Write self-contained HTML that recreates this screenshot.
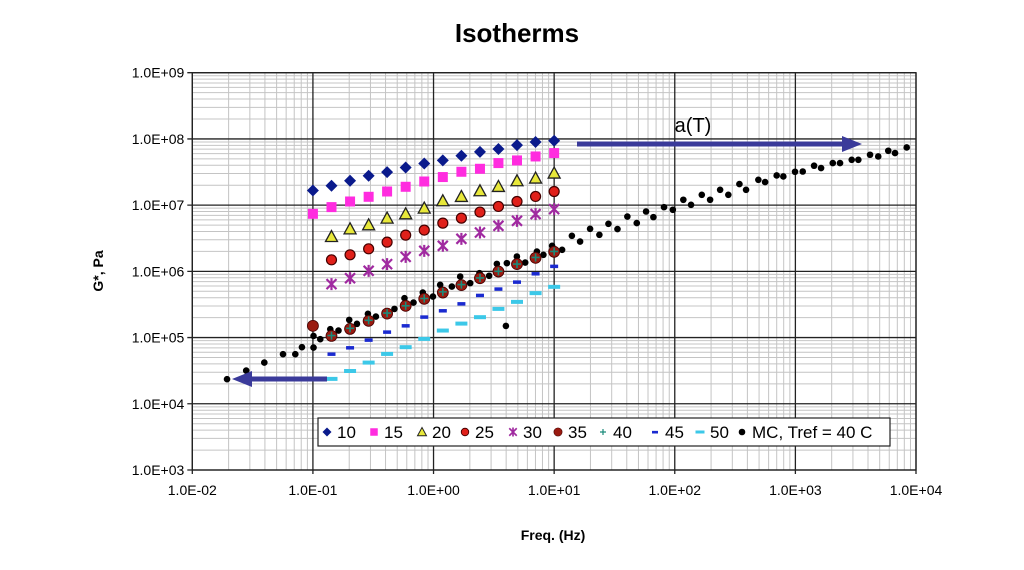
<!DOCTYPE html>
<html><head><meta charset="utf-8"><style>
body{margin:0;background:#fff;width:1024px;height:565px;overflow:hidden}
svg{font-family:"Liberation Sans",Arial,sans-serif}
</style></head><body>
<svg id="chart" width="1024" height="565" xmlns="http://www.w3.org/2000/svg">
<rect width="1024" height="565" fill="#fff"/>
<text x="517" y="42" font-size="26" font-weight="bold" text-anchor="middle">Isotherms</text>
<text x="553" y="540" font-size="14" font-weight="bold" text-anchor="middle">Freq. (Hz)</text>
<text transform="translate(103,271) rotate(-90)" font-size="14" font-weight="bold" text-anchor="middle">G*, Pa</text>
<g id="grid"></g>
<g id="ticks"></g>
<g id="marks"></g>
</svg>
<script>
const xTickLabels=["1.0E-02","1.0E-01","1.0E+00","1.0E+01","1.0E+02","1.0E+03","1.0E+04"];
const yTickLabels=["1.0E+03","1.0E+04","1.0E+05","1.0E+06","1.0E+07","1.0E+08","1.0E+09"];
const isoLogFreq=[-1,-0.846,-0.692,-0.538,-0.385,-0.231,-0.077,0.077,0.231,0.385,0.538,0.692,0.846,1];
const s10=[7.221,7.292,7.368,7.443,7.499,7.569,7.629,7.675,7.746,7.804,7.847,7.907,7.953,7.972];
const s15=[6.869,6.970,7.055,7.126,7.206,7.277,7.357,7.424,7.504,7.549,7.635,7.675,7.735,7.786];
const s20=[null,6.526,6.642,6.703,6.804,6.869,6.955,7.066,7.131,7.217,7.282,7.368,7.409,7.484];
const s25=[null,6.174,6.250,6.340,6.441,6.547,6.623,6.728,6.804,6.895,6.980,7.055,7.131,7.206];
const s30=[null,5.807,5.897,6.008,6.109,6.219,6.310,6.386,6.491,6.587,6.688,6.763,6.865,6.940];
const s35=[5.177,5.025,5.131,5.252,5.362,5.479,5.585,5.680,5.792,5.897,5.997,6.109,6.204,6.295];
const s40=[null,5.03,5.14,5.26,5.37,5.48,5.59,5.69,5.80,5.90,6.00,6.11,6.21,6.30];
const s45=[null,4.753,4.849,4.965,5.086,5.181,5.313,5.408,5.513,5.640,5.736,5.841,5.967,6.079];
const s50=[null,4.376,4.495,4.622,4.753,4.855,4.980,5.106,5.211,5.308,5.433,5.539,5.671,5.766];
const mcLogF=[-1.712,-1.553,-1.403,-1.248,-1.146,-1.091,-0.995,-0.995,-0.939,-0.856,-0.788,-0.699,-0.635,-0.544,-0.478,-0.387,-0.324,-0.241,-0.166,-0.089,-0.005,0.055,0.152,0.221,0.304,0.381,0.461,0.525,0.608,0.691,0.760,0.857,0.911,0.983,1.066,1.147,1.215,1.298,1.375,1.450,1.525,1.607,1.685,1.762,1.823,1.911,1.984,2.071,2.135,2.224,2.293,2.376,2.444,2.536,2.591,2.693,2.749,2.845,2.900,2.997,3.061,3.155,3.213,3.310,3.370,3.467,3.522,3.619,3.687,3.770,3.826,3.923,0.600];
const mcLogG=[4.371,4.501,4.622,4.749,4.749,4.855,4.849,5.025,4.976,5.127,5.106,5.267,5.207,5.358,5.317,5.399,5.433,5.595,5.529,5.680,5.619,5.796,5.770,5.922,5.822,5.973,5.932,6.113,6.124,6.224,6.133,6.299,6.250,6.386,6.325,6.537,6.450,6.642,6.552,6.718,6.638,6.828,6.729,6.904,6.819,6.970,6.930,7.081,7.005,7.156,7.081,7.232,7.156,7.318,7.232,7.383,7.348,7.448,7.433,7.504,7.508,7.595,7.560,7.635,7.635,7.685,7.685,7.761,7.735,7.821,7.786,7.871,5.176];

const NS="http://www.w3.org/2000/svg";
const L=192.3,R=916,T=72.7,B=470;
const xMin=-2,xMax=4,yMin=3,yMax=9;
const X=v=>L+(v-xMin)/(xMax-xMin)*(R-L);
const Y=v=>B-(v-yMin)/(yMax-yMin)*(B-T);
function mk(tag,attrs,parent){const e=document.createElementNS(NS,tag);for(const k in attrs)e.setAttribute(k,attrs[k]);parent.appendChild(e);return e;}
const grid=document.getElementById('grid'),ticks=document.getElementById('ticks'),marks=document.getElementById('marks');
for(let d=xMin;d<xMax;d++)for(let m=2;m<10;m++){const x=X(d+Math.log10(m));const ln=mk('line',{x1:x,x2:x,y1:T,y2:B,stroke:'#c4c4c4','stroke-width':1},grid);}
for(let d=yMin;d<yMax;d++)for(let m=2;m<10;m++){const y=Y(d+Math.log10(m));const ln=mk('line',{x1:L,x2:R,y1:y,y2:y,stroke:'#c4c4c4','stroke-width':1},grid);}
xTickLabels.forEach((t,i)=>{const x=X(xMin+i);const ln=mk('line',{x1:x,x2:x,y1:T,y2:B+4,stroke:'#222','stroke-width':1.3},grid);
const tx=mk('text',{x:x,y:B+25,'font-size':14,'text-anchor':'middle'},ticks);tx.textContent=t;});
yTickLabels.forEach((t,i)=>{const y=Y(yMin+i);const ln=mk('line',{x1:L-5,x2:R,y1:y,y2:y,stroke:'#222','stroke-width':1.3},grid);
const tx=mk('text',{x:L-8,y:y+5,'font-size':14,'text-anchor':'end'},ticks);tx.textContent=t;});
const fr=mk('rect',{x:L,y:T,width:R-L,height:B-T,fill:'none',stroke:'#222','stroke-width':1.3},grid);

function marker(type,x,y,parent){let e;
 if(type==='diamond')e=mk('path',{d:`M${x} ${y-6}L${x+6} ${y}L${x} ${y+6}L${x-6} ${y}Z`,fill:'#0a1a8c'},parent);
 else if(type==='square')e=mk('rect',{x:x-5,y:y-5,width:10,height:10,fill:'#ff2cdf'},parent);
 else if(type==='tri')e=mk('path',{d:`M${x} ${y-6}L${x+6} ${y+5}L${x-6} ${y+5}Z`,fill:'#e8e83a',stroke:'#222','stroke-width':1.3},parent);
 else if(type==='circle')e=mk('circle',{cx:x,cy:y,r:5,fill:'#e0201a',stroke:'#400','stroke-width':1.2},parent);
 else if(type==='dcircle')e=mk('circle',{cx:x,cy:y,r:5.5,fill:'#9a1a10',stroke:'#400','stroke-width':0.8},parent);
 else if(type==='star')e=mk('path',{d:`M${x-5} ${y-5}L${x+5} ${y+5}M${x+5} ${y-5}L${x-5} ${y+5}M${x} ${y-6}L${x} ${y+6}`,stroke:'#a02aa0','stroke-width':2.2},parent);
 else if(type==='plus')e=mk('path',{d:`M${x-4} ${y}L${x+4} ${y}M${x} ${y-4}L${x} ${y+4}`,stroke:'#1a8a7a','stroke-width':1.6},parent);
 else if(type==='dash')e=mk('rect',{x:x-4,y:y-1.5,width:8,height:3.5,fill:'#1a2ad0'},parent);
 else if(type==='cdash')e=mk('rect',{x:x-6,y:y-2,width:12,height:4,fill:'#3cc8e8'},parent);
 else e=mk('circle',{cx:x,cy:y,r:3.3,fill:'#000'},parent);
 return e;}
const series=[['s10',s10,'diamond'],['s15',s15,'square'],['s20',s20,'tri'],['s25',s25,'circle'],['s30',s30,'star'],['s45',s45,'dash'],['s50',s50,'cdash']];
series.forEach(([n,arr,t])=>arr.forEach((v,i)=>{if(v==null)return;const e=marker(t,X(isoLogFreq[i]),Y(v),marks);}));
mcLogF.forEach((f,i)=>{const e=marker('mc',X(f),Y(mcLogG[i]),marks);});
s35.forEach((v,i)=>{if(v==null)return;const e=marker('dcircle',X(isoLogFreq[i]),Y(v),marks);});
s40.forEach((v,i)=>{if(v==null)return;const e=marker('plus',X(isoLogFreq[i]),Y(v),marks);});

const svg=document.getElementById('chart');
const a1=mk('path',{d:'M577 141.5H842V136L862 144L842 152V146.5H577Z',fill:'#3a3a9a'},svg);
const a2=mk('path',{d:'M327 376.5H252V371L232 379L252 387V381.5H327Z',fill:'#3a3a9a'},svg);
const at=mk('text',{x:693,y:132,'font-size':20,'text-anchor':'middle'},svg);at.textContent='a(T)';

const lg=mk('g',{},svg);
const lr=mk('rect',{x:318,y:418,width:572,height:28,fill:'#fff',stroke:'#222','stroke-width':1.2},lg);
const legendItems=[['diamond','10',327],['square','15',374],['tri','20',422],['circle','25',465],['star','30',513],['dcircle','35',558],['plus','40',603],['dash','45',655],['cdash','50',700],['mc','MC, Tref = 40 C',742]];
legendItems.forEach(([t,lab,x])=>{const g=mk('g',{},lg);
 const s=t==='mc'?1:0.75;const m=marker(t,0,0,g);m.setAttribute('transform',`translate(${x},432) scale(${s})`);
 const tx=mk('text',{x:x+10,y:438,'font-size':17},g);tx.textContent=lab;});
</script>
</body></html>
